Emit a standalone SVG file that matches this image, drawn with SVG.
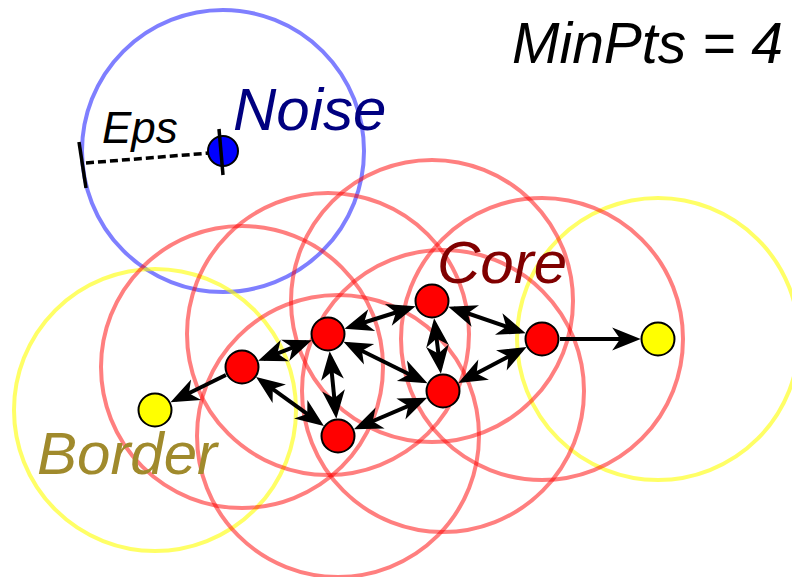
<svg xmlns="http://www.w3.org/2000/svg" width="792" height="577" viewBox="0 0 792 577">
<style>
.reg{fill:none;stroke-width:4}
.rc{stroke:#ff0000;stroke-opacity:0.5}
.yc{stroke:#ffff00;stroke-opacity:0.6}
.bc{stroke:#0000ff;stroke-opacity:0.5}
.edge{stroke:#000;stroke-width:4;fill:none}
.bi{marker-start:url(#ah);marker-end:url(#ah)}
.uni{marker-end:url(#ah)}
.pt{stroke:#000;stroke-width:2}
.core{fill:#ff0000}
.border{fill:#ffff00}
.noise{fill:#0000ff}
text{font-family:"Liberation Sans",Arial,sans-serif;font-style:italic}
</style>
<defs>
<marker id="ah" markerUnits="userSpaceOnUse" orient="auto-start-reverse" refX="0" refY="0" markerWidth="40" markerHeight="40" viewBox="-25 -15 35 30" overflow="visible">
<path d="M5,0 L-20,-10 L-13,0 L-20,10 Z" fill="#000"/>
</marker>
</defs>
<g id="regions">
<circle class="reg bc" cx="223" cy="151" r="141"/>
<circle class="reg yc" cx="155" cy="410" r="141"/>
<circle class="reg yc" cx="658" cy="339" r="141"/>
<circle class="reg rc" cx="242" cy="367" r="141"/>
<circle class="reg rc" cx="328" cy="334" r="141"/>
<circle class="reg rc" cx="432" cy="301" r="141"/>
<circle class="reg rc" cx="542" cy="339" r="141"/>
<circle class="reg rc" cx="443" cy="391" r="141"/>
<circle class="reg rc" cx="338" cy="436" r="141"/>
</g>
<g id="eps">
<line x1="86" y1="163" x2="210" y2="153" stroke="#000" stroke-width="3.5" stroke-dasharray="8,4"/>
<line x1="79" y1="142" x2="86" y2="188" stroke="#000" stroke-width="3.5"/>
<text x="102" y="143" font-size="44" fill="#000">Eps</text>
</g>
<g id="connectors">
<line class="edge bi" x1="263.5" y1="358.8" x2="306.5" y2="342.2"/>
<line class="edge uni" x1="225.9" y1="375" x2="175.6" y2="399.8"/>
<line class="edge bi" x1="260.7" y1="380.4" x2="319.3" y2="422.6"/>
<line class="edge bi" x1="349.9" y1="327" x2="410.1" y2="308"/>
<line class="edge bi" x1="348.6" y1="344.2" x2="422.4" y2="380.8"/>
<line class="edge bi" x1="330.2" y1="356.9" x2="335.8" y2="413.1"/>
<line class="edge bi" x1="434.8" y1="323.8" x2="440.2" y2="368.2"/>
<line class="edge bi" x1="453.7" y1="308.5" x2="520.3" y2="331.5"/>
<line class="edge bi" x1="521.6" y1="349.7" x2="463.4" y2="380.3"/>
<line class="edge bi" x1="421.9" y1="400.1" x2="359.1" y2="427"/>
<line class="edge uni" x1="560" y1="339" x2="635" y2="339"/>
</g>
<g id="noise">
<circle class="pt noise" cx="223" cy="151" r="15"/>
<line x1="219" y1="129" x2="223" y2="175" stroke="#000" stroke-width="3.5"/>
<text x="233" y="130" font-size="60" fill="#000080">Noise</text>
</g>
<g id="A"><circle class="pt core" cx="242" cy="367" r="16.5"/></g>
<g id="B"><circle class="pt core" cx="328" cy="334" r="16.5"/></g>
<g id="C"><circle class="pt core" cx="432" cy="301" r="16.5"/></g>
<g id="D"><circle class="pt core" cx="542" cy="339" r="16.5"/></g>
<g id="E"><circle class="pt core" cx="443" cy="391" r="16.5"/></g>
<g id="F"><circle class="pt core" cx="338" cy="436" r="16.5"/></g>
<g id="G"><circle class="pt border" cx="155" cy="410" r="16.5"/></g>
<g id="H"><circle class="pt border" cx="658" cy="339" r="16.5"/></g>
<g id="labels">
<text x="437" y="283" font-size="60" fill="#800000">Core</text>
<text x="37" y="474" font-size="60" fill="#a08a2c">Border</text>
<text x="512" y="63" font-size="57" fill="#000">MinPts = 4</text>
</g>
</svg>
